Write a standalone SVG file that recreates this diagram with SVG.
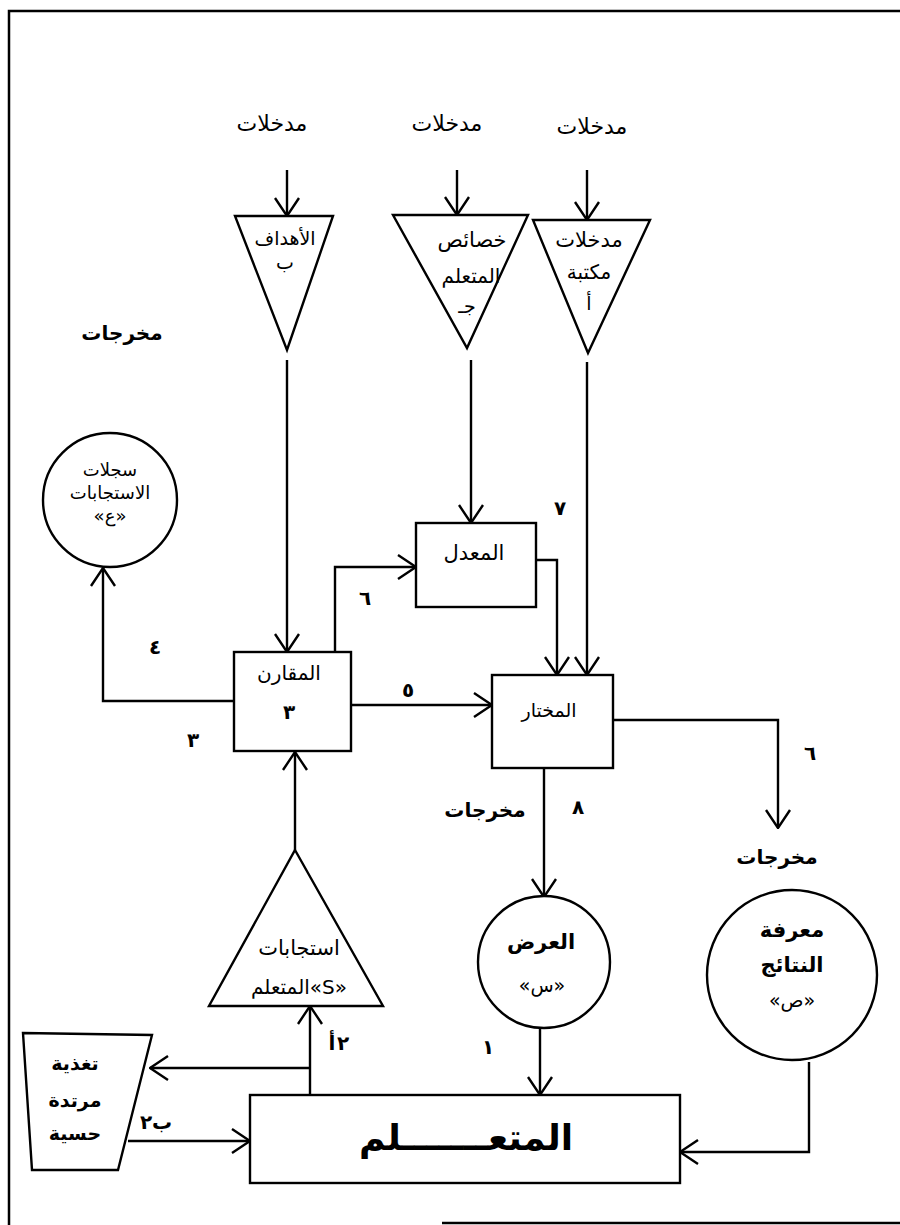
<svg xmlns="http://www.w3.org/2000/svg" width="900" height="1225" viewBox="0 0 900 1225">
<defs>
<marker id="arr" viewBox="0 0 20 26" refX="19" refY="13" markerWidth="20" markerHeight="26" markerUnits="userSpaceOnUse" orient="auto">
<path d="M1,1 L19,13 L1,25" fill="none" stroke="#000" stroke-width="2.4"/>
</marker>
</defs>
<style>
.sh{fill:#fff;stroke:#000;stroke-width:2.4}
.ln{fill:none;stroke:#000;stroke-width:2.4}
.fr{fill:none;stroke:#000;stroke-width:2.5}
text{font-family:"DejaVu Sans","Noto Sans",sans-serif;font-size:19px;fill:#000;text-anchor:middle;dominant-baseline:central}
.b{font-weight:bold}
.num{font-size:20px;font-weight:bold}
.top{font-size:22px}
.big{font-size:36px;font-weight:bold}
</style>
<rect width="900" height="1225" fill="#fff"/>
<g id="frame">
<path class="fr" d="M9,1225 L9,11 L900,11"/>
<path class="fr" d="M442,1223 L900,1223"/>
</g>
<g id="labels">
<text x="272" y="123" class="top">مدخلات</text>
<text x="447" y="123" class="top">مدخلات</text>
<text x="592" y="126" class="top">مدخلات</text>
<text x="122" y="333" class="b" style="font-size:20px">مخرجات</text>
<text x="560" y="508" class="num">٧</text>
<text x="365" y="598" class="num">٦</text>
<text x="155" y="647" class="num">٤</text>
<text x="408" y="690" class="num">٥</text>
<text x="193" y="740" class="num">٣</text>
<text x="485" y="810" class="b" style="font-size:20px">مخرجات</text>
<text x="578" y="807" class="num">٨</text>
<text x="810" y="753" class="num">٦</text>
<text x="777" y="857" class="b" style="font-size:20px">مخرجات</text>
<text y="1043" class="num"><tspan x="332">أ</tspan><tspan x="343">٢</tspan></text>
<text x="488" y="1047" class="num">١</text>
<text y="1122" class="num"><tspan x="146">٢</tspan><tspan x="162">ب</tspan></text>
</g>
<g id="connectors">
<path class="ln" marker-end="url(#arr)" d="M287,170 L287,216"/>
<path class="ln" marker-end="url(#arr)" d="M457,170 L457,215"/>
<path class="ln" marker-end="url(#arr)" d="M587,170 L587,220"/>
<path class="ln" marker-end="url(#arr)" d="M287,360 L287,652"/>
<path class="ln" marker-end="url(#arr)" d="M471,360 L471,523"/>
<path class="ln" marker-end="url(#arr)" d="M587,362 L587,675"/>
<path class="ln" marker-end="url(#arr)" d="M536,560 L557,560 L557,675"/>
<path class="ln" marker-end="url(#arr)" d="M335,652 L335,567 L416,567"/>
<path class="ln" marker-end="url(#arr)" d="M234,701 L103,701 L103,568"/>
<path class="ln" marker-end="url(#arr)" d="M351,705 L492,705"/>
<path class="ln" marker-end="url(#arr)" d="M544,768 L544,897"/>
<path class="ln" marker-end="url(#arr)" d="M613,720 L778,720 L778,828"/>
<path class="ln" marker-end="url(#arr)" d="M540,1028 L540,1095"/>
<path class="ln" marker-end="url(#arr)" d="M809,1062 L809,1152 L680,1152"/>
<path class="ln" marker-end="url(#arr)" d="M310,1095 L310,1006"/>
<path class="ln" marker-end="url(#arr)" d="M310,1068 L150,1068"/>
<path class="ln" marker-end="url(#arr)" d="M128,1141 L250,1141"/>
<path class="ln" marker-end="url(#arr)" d="M295,850 L295,752"/>
</g>
<g id="goals">
<polygon class="sh" points="235,216 333,216 287,350"/>
<text x="285" y="238">الأهداف</text>
<text x="285" y="262">ب</text>
</g>
<g id="learner-characteristics">
<polygon class="sh" points="393,215 528,215 467,348"/>
<text x="472" y="240" style="font-size:21px">خصائص</text>
<text x="471" y="276" style="font-size:20px">المتعلم</text>
<text x="467" y="306">جـ</text>
</g>
<g id="library-inputs">
<polygon class="sh" points="533,220 650,220 588,353"/>
<text x="589" y="240" style="font-size:21px">مدخلات</text>
<text x="589" y="272" style="font-size:20px">مكتبة</text>
<text x="589" y="303">أ</text>
</g>
<g id="records">
<circle class="sh" cx="110" cy="500" r="67"/>
<text x="110" y="469" style="font-size:18px">سجلات</text>
<text x="110" y="492" style="font-size:18px">الاستجابات</text>
<text x="110" y="515" style="font-size:18px">«ع»</text>
</g>
<g id="modifier">
<rect class="sh" x="416" y="523" width="120" height="84"/>
<text x="474" y="553" style="font-size:21px">المعدل</text>
</g>
<g id="comparator">
<rect class="sh" x="234" y="652" width="117" height="99"/>
<text x="289" y="673" style="font-size:20px">المقارن</text>
<text x="289" y="712" class="num">٣</text>
</g>
<g id="selector">
<rect class="sh" x="492" y="675" width="121" height="93"/>
<text x="549" y="710">المختار</text>
</g>
<g id="responses">
<polygon class="sh" points="295,850 383,1006 209,1006"/>
<text x="299" y="948" style="font-size:21px">استجابات</text>
<text x="299" y="987" style="font-size:20px">المتعلم«S»</text>
</g>
<g id="display">
<circle class="sh" cx="544" cy="962" r="66"/>
<text x="541" y="942" class="b" style="font-size:21px">العرض</text>
<text x="542" y="985">«س»</text>
</g>
<g id="results">
<circle class="sh" cx="792" cy="975" r="85"/>
<text x="792" y="930" class="b" style="font-size:21px">معرفة</text>
<text x="792" y="965" class="b" style="font-size:21px">النتائج</text>
<text x="792" y="1000">«ص»</text>
</g>
<g id="feedback">
<polygon class="sh" points="23,1033 152,1035 118,1170 32,1170"/>
<text x="75" y="1063" class="b">تغذية</text>
<text x="75" y="1100" class="b">مرتدة</text>
<text x="75" y="1133" class="b">حسية</text>
</g>
<g id="learner">
<rect class="sh" x="250" y="1095" width="430" height="88"/>
<text x="466" y="1137" class="big">المتعـــــــلم</text>
</g>
</svg>
